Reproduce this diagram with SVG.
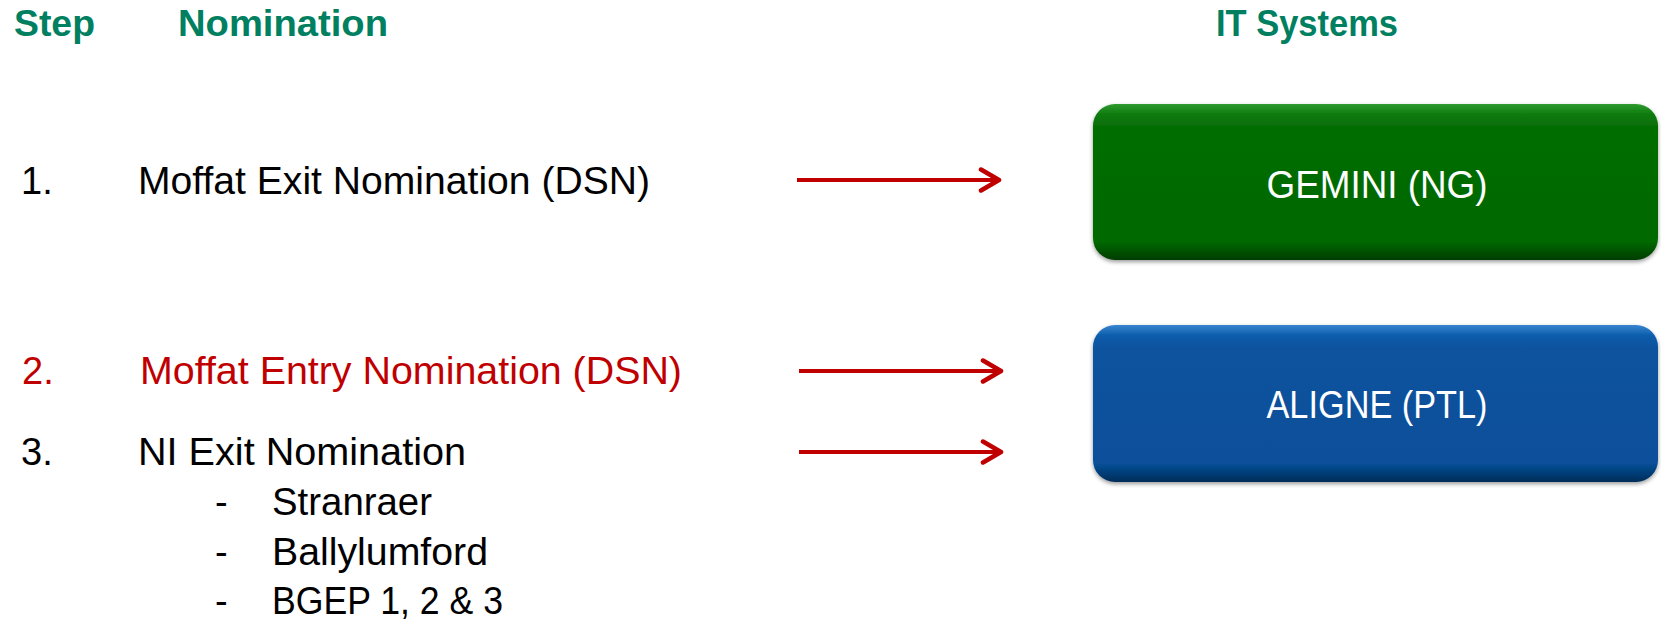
<svg xmlns="http://www.w3.org/2000/svg" width="1661" height="624" viewBox="0 0 1661 624">
<style>
.hdr{font-family:"Liberation Sans",Arial,sans-serif;font-weight:bold;font-size:37px;fill:#008060}
.t{font-family:"Liberation Sans",Arial,sans-serif;font-size:38px;fill:#000}
.red{fill:#C00000}
.bt{font-family:"Liberation Sans",Arial,sans-serif;font-size:38px;fill:#fff;text-anchor:middle}
.arr{stroke:#C00000;stroke-width:4;fill:none;marker-end:url(#ah)}
</style>
<defs>
<marker id="ah" viewBox="0 0 24 26" refX="21" refY="13" markerWidth="24" markerHeight="26" markerUnits="userSpaceOnUse" orient="auto">
<path d="M3,2.5 L21,13 L3,23.5" fill="none" stroke="#C00000" stroke-width="4.5" stroke-linecap="round" stroke-linejoin="round"/>
</marker>
<linearGradient id="gG" x1="0" y1="0" x2="0" y2="1">
<stop offset="0" stop-color="#2f9a2f"/>
<stop offset="0.07" stop-color="#0a7a0a"/>
<stop offset="0.15" stop-color="#066D06"/>
<stop offset="0.88" stop-color="#066A06"/>
<stop offset="1" stop-color="#033B03"/>
</linearGradient>
<linearGradient id="gB" x1="0" y1="0" x2="0" y2="1">
<stop offset="0" stop-color="#3a85d0"/>
<stop offset="0.07" stop-color="#0a5cab"/>
<stop offset="0.15" stop-color="#07529E"/>
<stop offset="0.88" stop-color="#07509A"/>
<stop offset="1" stop-color="#032C58"/>
</linearGradient>
<filter id="sh" x="-5%" y="-10%" width="110%" height="130%">
<feGaussianBlur in="SourceAlpha" stdDeviation="2"/>
<feOffset dy="2"/>
<feComponentTransfer><feFuncA type="linear" slope="0.4"/></feComponentTransfer>
<feMerge><feMergeNode/><feMergeNode in="SourceGraphic"/></feMerge>
</filter>
</defs>

<g id="headers">
<text class="hdr" x="14" y="36" textLength="81" lengthAdjust="spacingAndGlyphs">Step</text>
<text class="hdr" x="178" y="36" textLength="210" lengthAdjust="spacingAndGlyphs">Nomination</text>
<text class="hdr" x="1216" y="36" textLength="182" lengthAdjust="spacingAndGlyphs">IT Systems</text>
</g>

<g id="step1">
<text class="t" x="21" y="194">1.</text>
<text class="t" x="138" y="194" textLength="512" lengthAdjust="spacingAndGlyphs">Moffat Exit Nomination (DSN)</text>
</g>
<g id="step2">
<text class="t red" x="22" y="384">2.</text>
<text class="t red" x="140" y="384" textLength="542" lengthAdjust="spacingAndGlyphs">Moffat Entry Nomination (DSN)</text>
</g>
<g id="step3">
<text class="t" x="21" y="465">3.</text>
<text class="t" x="138" y="465" textLength="328" lengthAdjust="spacingAndGlyphs">NI Exit Nomination</text>
<text class="t" x="215" y="515">-</text>
<text class="t" x="272" y="515" textLength="160" lengthAdjust="spacingAndGlyphs">Stranraer</text>
<text class="t" x="215" y="565">-</text>
<text class="t" x="272" y="565" textLength="216" lengthAdjust="spacingAndGlyphs">Ballylumford</text>
<text class="t" x="215" y="614">-</text>
<text class="t" x="272" y="614" textLength="231" lengthAdjust="spacingAndGlyphs">BGEP 1, 2 &amp; 3</text>
</g>

<g id="gemini">
<rect x="1093" y="104" width="565" height="156" rx="22" fill="url(#gG)" filter="url(#sh)"/>
<text class="bt" x="1377" y="198" textLength="221" lengthAdjust="spacingAndGlyphs">GEMINI (NG)</text>
</g>
<g id="aligne">
<rect x="1093" y="325" width="565" height="157" rx="22" fill="url(#gB)" filter="url(#sh)"/>
<text class="bt" x="1377" y="418" textLength="221" lengthAdjust="spacingAndGlyphs">ALIGNE (PTL)</text>
</g>

<g id="connectors">
<line class="arr" x1="797" y1="180" x2="999" y2="180"/>
<line class="arr" x1="799" y1="371" x2="1001" y2="371"/>
<line class="arr" x1="799" y1="452" x2="1001" y2="452"/>
</g>
</svg>
